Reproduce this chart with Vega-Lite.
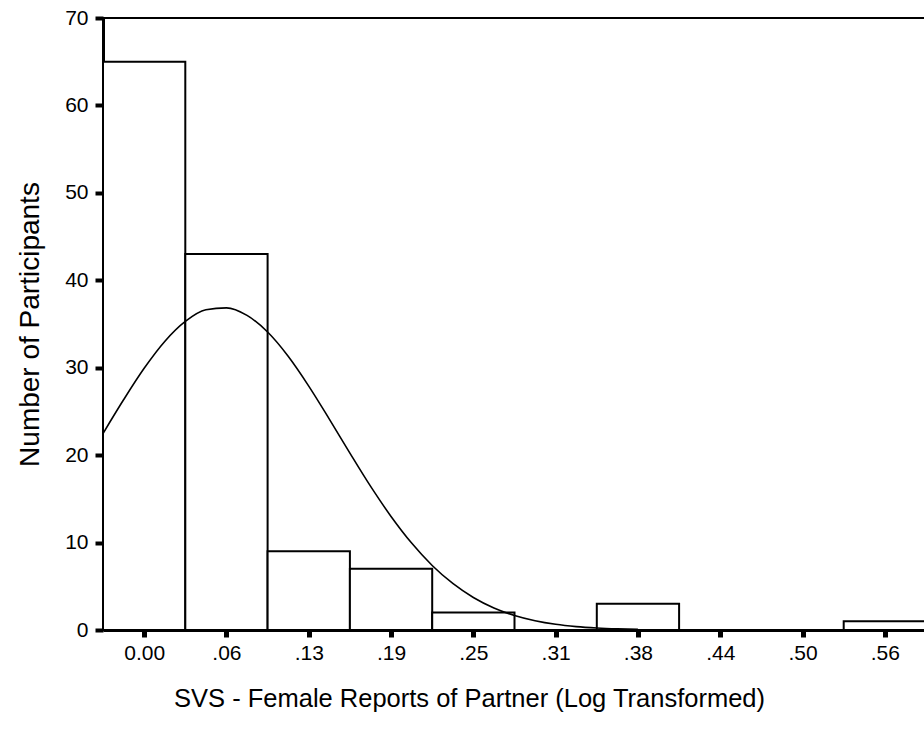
{
  "$schema": "https://vega.github.io/schema/vega-lite/v6.json",
  "width": 823,
  "height": 612,
  "autosize": {"type": "none"},
  "padding": {"left": 103, "top": 18, "right": 0, "bottom": 110},
  "background": "white",
  "config": {
    "view": {"stroke": "black", "strokeWidth": 2},
    "font": "Liberation Sans",
    "axis": {"grid": false, "domainColor": "black", "tickColor": "black", "labelColor": "black", "titleColor": "black", "labelFont": "Liberation Sans", "titleFont": "Liberation Sans", "titleFontWeight": "normal"},
    "axisX": {"domainWidth": 3, "tickSize": 7, "tickWidth": 5, "labelFontSize": 21, "labelPadding": 5, "titleFontSize": 25.5},
    "axisY": {"domainWidth": 3, "tickSize": 8, "tickWidth": 4, "labelFontSize": 21, "labelPadding": 7, "titleFontSize": 28}
  },
  "datasets": {
    "bars": [
      {"bin_start": -0.03125, "bin_end": 0.03125, "count": 65},
      {"bin_start": 0.03125, "bin_end": 0.09375, "count": 43},
      {"bin_start": 0.09375, "bin_end": 0.15625, "count": 9},
      {"bin_start": 0.15625, "bin_end": 0.21875, "count": 7},
      {"bin_start": 0.21875, "bin_end": 0.28125, "count": 2},
      {"bin_start": 0.28125, "bin_end": 0.34375, "count": 0},
      {"bin_start": 0.34375, "bin_end": 0.40625, "count": 3},
      {"bin_start": 0.40625, "bin_end": 0.46875, "count": 0},
      {"bin_start": 0.46875, "bin_end": 0.53125, "count": 0},
      {"bin_start": 0.53125, "bin_end": 0.59375, "count": 1}
    ],
    "curve": [
      {"x": -0.03125, "y": 22.47},
      {"x": -0.015625, "y": 26.33},
      {"x": 0.0, "y": 29.93},
      {"x": 0.015625, "y": 33.0},
      {"x": 0.03125, "y": 35.29},
      {"x": 0.046875, "y": 36.62},
      {"x": 0.0625, "y": 36.85},
      {"x": 0.078125, "y": 35.98},
      {"x": 0.09375, "y": 34.08},
      {"x": 0.109375, "y": 31.31},
      {"x": 0.125, "y": 27.9},
      {"x": 0.140625, "y": 24.12},
      {"x": 0.15625, "y": 20.23},
      {"x": 0.171875, "y": 16.45},
      {"x": 0.1875, "y": 12.99},
      {"x": 0.203125, "y": 9.94},
      {"x": 0.21875, "y": 7.38},
      {"x": 0.234375, "y": 5.32},
      {"x": 0.25, "y": 3.72},
      {"x": 0.265625, "y": 2.52},
      {"x": 0.28125, "y": 1.66},
      {"x": 0.296875, "y": 1.06},
      {"x": 0.3125, "y": 0.65},
      {"x": 0.328125, "y": 0.39},
      {"x": 0.34375, "y": 0.23},
      {"x": 0.359375, "y": 0.13},
      {"x": 0.375, "y": 0.07}
    ]
  },
  "layer": [
    {
      "data": {"name": "bars"},
      "mark": {"type": "rect", "fill": "white", "stroke": "black", "strokeWidth": 2},
      "encoding": {
        "x": {
          "field": "bin_start", "type": "quantitative",
          "scale": {"domain": [-0.03125, 0.59375], "nice": false, "zero": false},
          "axis": {
            "values": [0, 0.0625, 0.125, 0.1875, 0.25, 0.3125, 0.375, 0.4375, 0.5, 0.5625],
            "labelExpr": "datum.value == 0 ? '0.00' : replace(format(datum.value, '.2f'), '0.', '.')",
            "title": "SVS - Female Reports of Partner (Log Transformed)",
            "titleX": 366, "titleY": 68, "titleBaseline": "middle", "titleAlign": "center"
          }
        },
        "x2": {"field": "bin_end"},
        "y": {
          "field": "count", "type": "quantitative",
          "scale": {"domain": [0, 70], "nice": false},
          "axis": {
            "values": [0, 10, 20, 30, 40, 50, 60, 70],
            "title": "Number of Participants",
            "titleAngle": -90, "titleX": -73, "titleY": 306, "titleBaseline": "middle", "titleAlign": "center"
          }
        },
        "y2": {"datum": 0}
      }
    },
    {
      "data": {"name": "curve"},
      "mark": {"type": "line", "color": "black", "strokeWidth": 1.6, "interpolate": "monotone"},
      "encoding": {
        "x": {"field": "x", "type": "quantitative"},
        "y": {"field": "y", "type": "quantitative"}
      }
    }
  ]
}
